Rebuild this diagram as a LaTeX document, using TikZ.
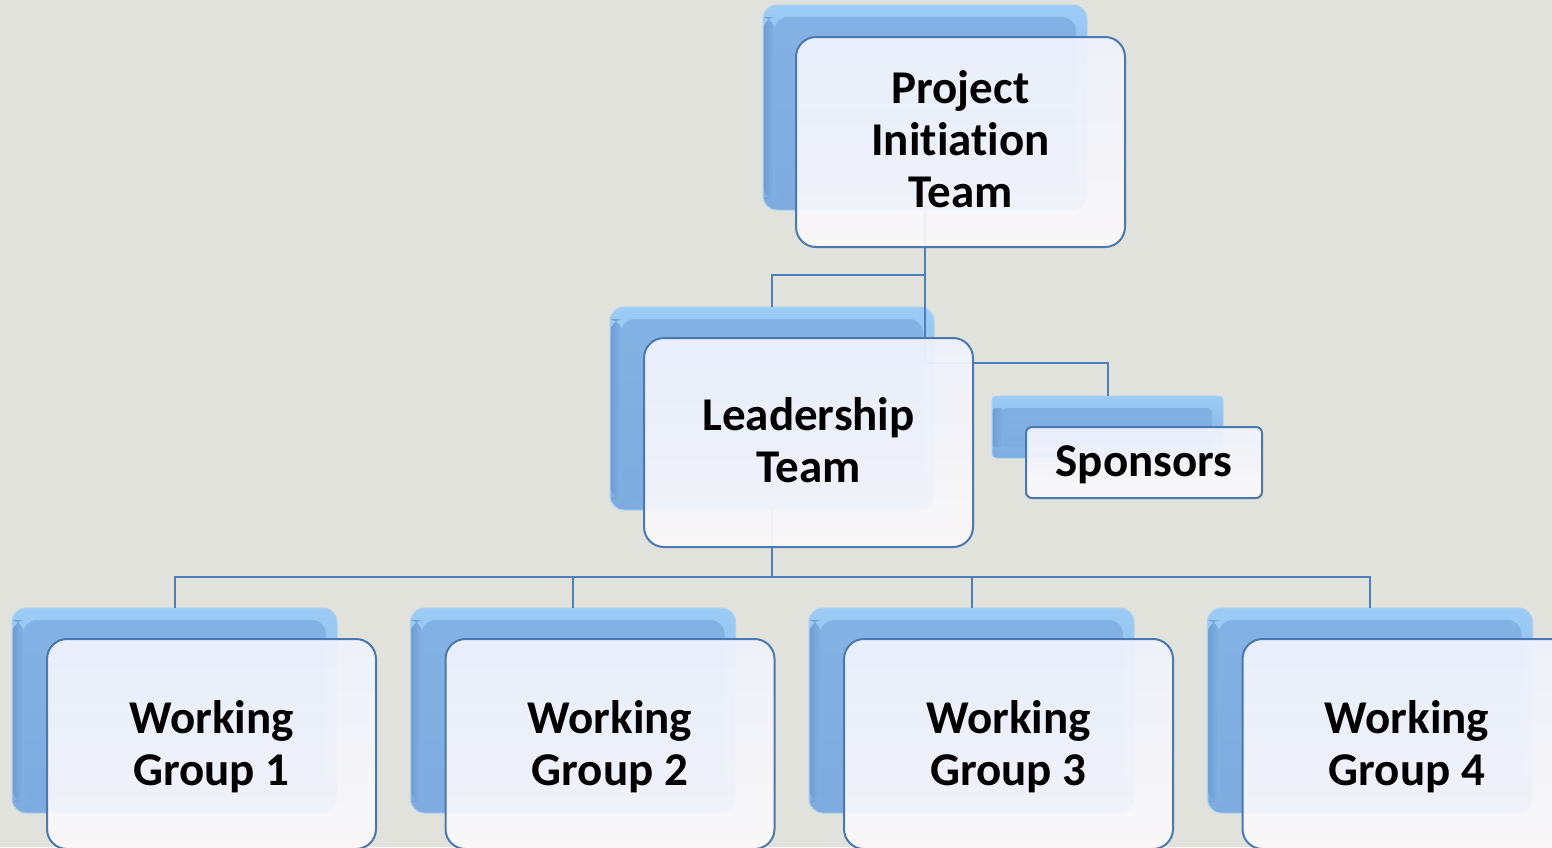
\documentclass[tikz,border=0pt]{standalone}
\usepackage{fontspec}
\setmainfont[Ligatures={NoCommon}]{Carlito}
\definecolor{bg}{HTML}{E1E2DC}
\definecolor{linec}{HTML}{4F7FB8}
\definecolor{frameb}{HTML}{4A78B0}
\definecolor{btop}{HTML}{9CCBF5}
\definecolor{bbot}{HTML}{7DABDF}
\definecolor{bmid}{HTML}{84B2E4}
\definecolor{bdark}{HTML}{6E9CD2}
\definecolor{bglow}{HTML}{A9D2F2}
\definecolor{ftop}{HTML}{F0F3FC}
\definecolor{fbot}{HTML}{FBF9FB}
\begin{document}
\begin{tikzpicture}[x=1pt,y=-1pt,
  backbox/.style={rectangle, rounded corners=14pt, draw=bglow, line width=1pt,
    top color=btop, bottom color=bbot, inner sep=0pt,
    path picture={
      \shade[top color=bmid, bottom color=bbot] ([shift={(11,12)}]path picture bounding box.north west) rectangle ([shift={(-11,-11)}]path picture bounding box.south east);
      \shade[left color=bdark, right color=bmid] ([shift={(0,12)}]path picture bounding box.north west) rectangle ([shift={(12,-11)}]path picture bounding box.south west);
    }},
  frontbox/.style={rectangle, rounded corners=20pt, draw=frameb, line width=2pt,
    top color=ftop, bottom color=fbot, fill opacity=0.93, inner sep=0pt},
  smallfront/.style={frontbox, rounded corners=6pt},
  smallback/.style={backbox, rounded corners=4pt},
  lbl/.style={inner sep=0pt, align=center, font=\fontsize{47}{52}\selectfont\bfseries},
  conn/.style={draw=linec, line width=2pt}
]
\useasboundingbox (0,0) rectangle (1552,847);
\clip (0,0) rectangle (1552,847);
\fill[bg] (0,0) rectangle (1552,847);

% back boxes
\node[backbox, minimum width=324pt, minimum height=205pt] (pitB) at (925,107.5) {};
\node[backbox, minimum width=324pt, minimum height=203pt] (ldB) at (772,408.5) {};
\node[smallback, minimum width=231pt, minimum height=62pt] (spB) at (1107.5,427) {};
\node[backbox, minimum width=325pt, minimum height=205pt] (wgaB) at (174.5,710.5) {};
\node[backbox, minimum width=325pt, minimum height=205pt] (wgbB) at (573,710.5) {};
\node[backbox, minimum width=325pt, minimum height=205pt] (wgcB) at (971.5,710.5) {};
\node[backbox, minimum width=325pt, minimum height=205pt] (wgdB) at (1370,710.5) {};

% connectors
\coordinate (j1) at (925,275);
\coordinate (j2) at (925,363);
\coordinate (j3) at (772,577);
\draw[conn] (pitB.south) -- (j1) -| (ldB.north);
\draw[conn] (j1) -- (j2) -| (spB.north);
\draw[conn] (ldB.south) -- (j3);
\draw[conn] (wgaB.north) |- (j3) -| (wgdB.north);
\draw[conn] (j3) -| (wgbB.north);
\draw[conn] (j3) -| (wgcB.north);

% front boxes
\node[frontbox, minimum width=329pt, minimum height=210pt] (pitF) at (960.5,142) {};
\node[frontbox, minimum width=329pt, minimum height=209pt] (ldF) at (808.5,442.5) {};
\node[smallfront, minimum width=236pt, minimum height=71pt] (spF) at (1144,462.5) {};
\node[frontbox, minimum width=329pt, minimum height=210pt] (wgaF) at (211.5,744) {};
\node[frontbox, minimum width=329pt, minimum height=210pt] (wgbF) at (610,744) {};
\node[frontbox, minimum width=329pt, minimum height=210pt] (wgcF) at (1008.5,744) {};
\node[frontbox, minimum width=329pt, minimum height=210pt] (wgdF) at (1407,744) {};

% labels
\node[lbl] (pitT) at ([yshift=3]pitF.center) {Project\\Initiation\\Team};
\node[lbl] (ldT) at ([yshift=2]ldF.center) {Leadership\\Team};
\node[lbl] (spT) at ([yshift=-2]spF.center) {Sponsors};
\node[lbl] (wgaT) at ([yshift=-3]wgaF.center) {Working\\Group 1};
\node[lbl] (wgbT) at ([yshift=-3]wgbF.center) {Working\\Group 2};
\node[lbl] (wgcT) at ([yshift=-3]wgcF.center) {Working\\Group 3};
\node[lbl] (wgdT) at ([yshift=-3]wgdF.center) {Working\\Group 4};
\end{tikzpicture}
\end{document}
